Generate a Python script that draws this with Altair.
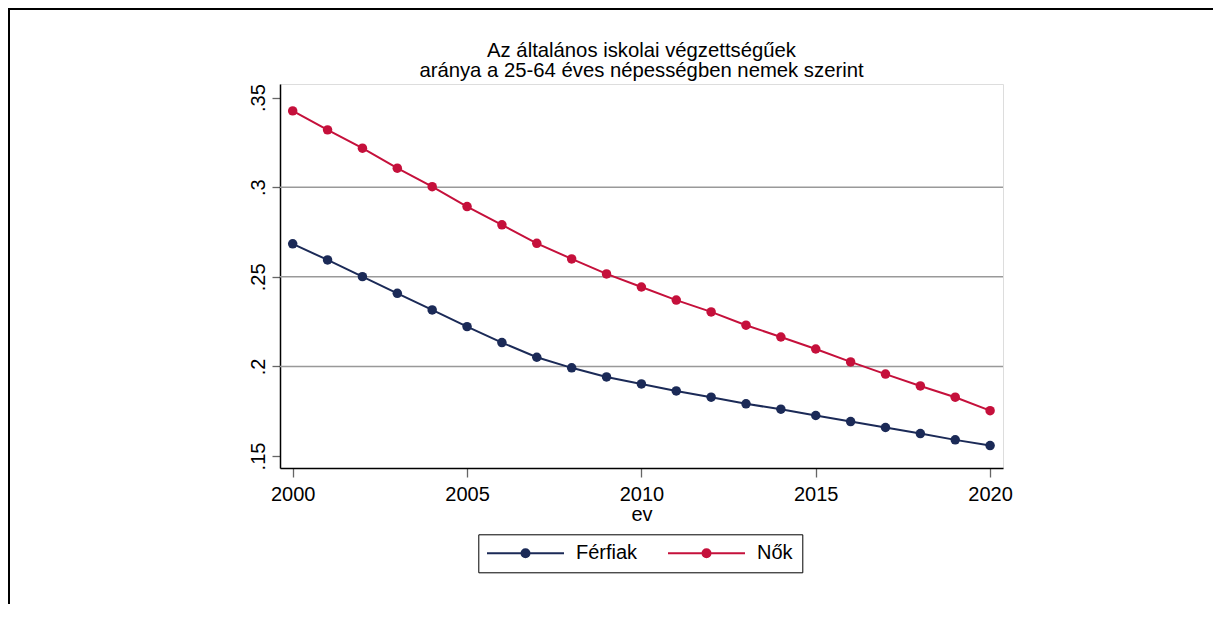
import altair as alt
import pandas as pd

# ---- data ----
years = list(range(2000, 2021))
ferfiak = [0.2684, 0.2594, 0.2501, 0.2408, 0.2315, 0.2222, 0.2133, 0.2051, 0.1992, 0.1941,
           0.1902, 0.1863, 0.1828, 0.1791, 0.1761, 0.1726, 0.1692, 0.1659, 0.1625, 0.1590, 0.1558]
nok = [0.3426, 0.3320, 0.3218, 0.3106, 0.3003, 0.2892, 0.2790, 0.2687, 0.2600, 0.2516,
       0.2443, 0.2370, 0.2304, 0.2230, 0.2164, 0.2097, 0.2025, 0.1957, 0.1891, 0.1828, 0.1753]
series_names = ["Férfiak", "Nők"]
series_colors = ["#1b2a57", "#c5103b"]
x_ticks = [2000, 2005, 2010, 2015, 2020]
y_ticks = [0.15, 0.2, 0.25, 0.3, 0.35]
y_tick_labels = [".15", ".2", ".25", ".3", ".35"]
y_grid = [0.2, 0.25, 0.3]
title_lines = ["Az általános iskolai  végzettségűek",
               "aránya a 25-64 éves népességben nemek szerint"]
x_title = "ev"

rows = []
for name, vals in zip(series_names, [ferfiak, nok]):
    for yr, v in zip(years, vals):
        rows.append({"ev": yr, "arany": v, "nem": name})
df = pd.DataFrame(rows)
grid_df = pd.DataFrame({"g": y_grid})
one_row = pd.DataFrame({"k": [0]})

FONT = "Liberation Sans"

label_expr = " : ".join(
    f"abs(datum.value - {v}) < 1e-6 ? '{l}'" for v, l in zip(y_ticks, y_tick_labels)
) + " : ''"

x_scale = alt.Scale(domain=[1999.636, 2020.37], nice=False, zero=False)
y_scale = alt.Scale(domain=[0.1433, 0.3576], nice=False, zero=False)

x_axis = alt.Axis(values=x_ticks, format="d", title=x_title, labelFlush=False, labelOverlap=False,
                  tickSize=9, tickColor="#666666", tickWidth=1.3, domainColor="#000000",
                  domainWidth=1.5, labelPadding=7, labelFontSize=20, labelFont=FONT,
                  labelColor="#000000", titleFont=FONT, titleFontSize=20,
                  titleFontWeight="normal", titleColor="#000000", titlePadding=0, grid=False)
y_axis = alt.Axis(values=y_ticks, labelExpr=label_expr, title=None, labelAngle=270,
                  labelAlign="center", labelBaseline="alphabetic", labelPadding=8,
                  labelFlush=False, labelOverlap=False, tickSize=8, tickColor="#666666",
                  tickWidth=1.3, domainColor="#000000", domainWidth=1.5, labelFontSize=20,
                  labelFont=FONT, labelColor="#000000", grid=False)

sym_path = ("M-7.7,0L7.7,0M0.8,0C0.8,0.442,0.442,0.8,0,0.8C-0.442,0.8,-0.8,0.442,-0.8,0"
            "C-0.8,-0.442,-0.442,-0.8,0,-0.8C0.442,-0.8,0.8,-0.442,0.8,0Z")
legend = alt.Legend(title=None, orient="none", legendX=198.3, legendY=450.3,
                    direction="horizontal", strokeColor="#000000", fillColor="#ffffff",
                    padding=9, symbolType=sym_path, symbolSize=100, symbolStrokeWidth=2,
                    symbolOffset=28.2, labelOffset=40.5, columnPadding=26,
                    labelFont=FONT, labelFontSize=20, labelColor="#000000")

color = alt.Color("nem:N", scale=alt.Scale(domain=series_names, range=series_colors),
                  sort=series_names, legend=legend)

base = alt.Chart(df).encode(
    x=alt.X("ev:Q", scale=x_scale, axis=x_axis),
    y=alt.Y("arany:Q", scale=y_scale, axis=y_axis),
    color=color,
)
lines = base.mark_line(strokeWidth=2)
points = base.mark_point(filled=True, size=90, opacity=1, strokeWidth=0)

grid = alt.Chart(grid_df).mark_rule(color="#999999", strokeWidth=1.5).encode(
    y=alt.Y("g:Q", scale=y_scale, axis=y_axis)
)

top_frame = alt.Chart(one_row).mark_rule(color="#000000", strokeWidth=2).encode(
    x=alt.value(-272), x2=alt.value(933), y=alt.value(-75)
)
left_frame = alt.Chart(one_row).mark_rule(color="#000000", strokeWidth=2).encode(
    x=alt.value(-271), y=alt.value(-76), y2=alt.value(520)
)

chart = alt.layer(grid, lines, points, top_frame, left_frame).properties(
    width=723,
    height=384,
    title=alt.TitleParams(text=title_lines, font=FONT, fontSize=20.3, fontWeight="normal",
                          color="#000000", anchor="middle", frame="group", offset=3,
                          dy=76.8, lineHeight=19.5),
    autosize=alt.AutoSizeParams(type="none"),
    padding={"left": 272, "top": 76, "right": 210, "bottom": 136},
).configure_view(stroke="#666666", strokeWidth=1.3).configure(font=FONT)

chart.save("out.html", embed_options={"renderer": "svg", "actions": False})
